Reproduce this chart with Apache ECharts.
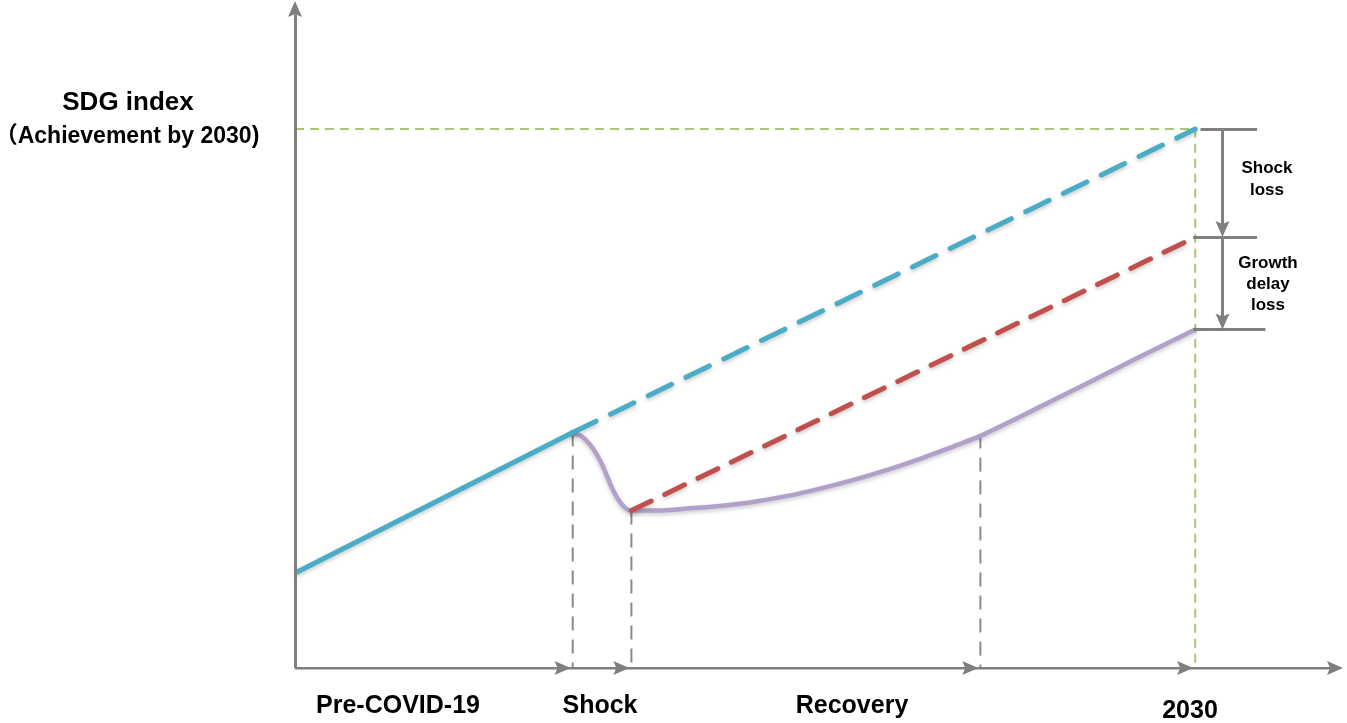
<!DOCTYPE html>
<html>
<head>
<meta charset="utf-8">
<script src="https://cdn.jsdelivr.net/npm/echarts@6/dist/echarts.min.js"></script>
<style>
  html, body { margin: 0; padding: 0; background: #fff; }
  #chart { width: 1347px; height: 723px; }
</style>
</head>
<body>
<div id="chart"></div>
<script>
// conceptual scale: x = time (0..100), y = SDG index (0..100)
var preTrend = [[0.2, 14.4], [26.5, 35.3]];
var noShockTrend = [[26.5, 35.3], [85.9, 80.8]];
var delayedTrend = [[32.1, 23.6], [85.9, 64.6]];
var actualPath = [
  [26.5, 35.3], [27.3, 34.8], [28.1, 33.6], [28.8, 32.0], [29.4, 30.2], [30.0, 27.9],
  [30.5, 26.2], [31.1, 24.7], [31.6, 23.9], [32.1, 23.6],
  [34.5, 23.6], [37.4, 23.9], [40.5, 24.3], [43.7, 24.9], [47.0, 25.8], [50.1, 26.9],
  [53.3, 28.2], [56.5, 29.7], [59.7, 31.4], [62.8, 33.2], [65.4, 34.8],
  [70.5, 38.7], [75.6, 42.7], [80.8, 46.8], [85.9, 50.75]
];
var phaseX = [26.5, 32.1, 65.4, 85.9];      // shock start, trough, recovery end, 2030
var phaseTopY = [35.3, 23.6, 35.0, 80.8];
var levelY = [80.8, 64.6, 50.75];           // no-shock, delayed, actual in 2030
var phaseLabels = ['Pre-COVID-19', 'Shock', 'Recovery', '2030'];
var lossLabels = ['Shock\nloss', 'Growth\ndelay\nloss'];

var GRAY = '#7f7f7f';
var FONT = '"Liberation Sans", Arial, "Noto Sans CJK SC", sans-serif';
var shadow = { shadowColor: 'rgba(0,0,0,0.22)', shadowBlur: 4, shadowOffsetY: 2 };

var ARROW_RIGHT = 'path://M0,0L16,7L0,14L3,7Z';
var ARROW_UP = 'path://M7,0L14,16L7,13L0,16Z';
var ARROW_DOWN = 'path://M0,0L7,3L14,0L7,16Z';

function lineSeries(data, color, width, type, extra) {
  var s = {
    type: 'line', data: data, symbol: 'none', silent: true,
    lineStyle: Object.assign({ color: color, width: width, type: type, cap: 'round' }, shadow)
  };
  return Object.assign(s, extra || {});
}

function arrowSeries(data, symbol, size, offset) {
  return {
    type: 'scatter', data: data, symbol: symbol, symbolSize: size,
    symbolOffset: offset, silent: true, clip: false, z: 6,
    itemStyle: { color: GRAY, opacity: 1 }
  };
}

var series = [];

// green guide to the 2030 target
series.push(lineSeries([[0, levelY[0]], [phaseX[3], levelY[0]], [phaseX[3], 0]],
  '#a8c878', 2, [9, 6], { lineStyle: { color: '#a8c878', width: 2, type: [9, 6] }, z: 1 }));

// gray dashed phase markers
for (var i = 0; i < 3; i++) {
  series.push(lineSeries([[phaseX[i], phaseTopY[i]], [phaseX[i], 0]], '#8a8a8a', 2, [14, 9],
    { lineStyle: { color: '#8a8a8a', width: 2, type: [14, 9] }, z: 1 }));
}

series.push(lineSeries(noShockTrend, '#4bacc6', 5, [26, 16], { z: 3 }));
series.push(lineSeries(delayedTrend, '#c0504d', 5, [22, 15], { z: 3 }));
series.push(lineSeries(actualPath, '#b1a0c9', 4.5, 'solid', { smooth: 0.2, z: 2 }));
series.push(lineSeries(preTrend, '#4bacc6', 5, 'solid', { z: 4 }));

// axes
series.push({
  type: 'lines', coordinateSystem: 'cartesian2d', silent: true, z: 5,
  symbol: 'none',
  lineStyle: { color: GRAY, width: 3, opacity: 1, curveness: 0 },
  data: [
    { coords: [[0, 0], [0, 98]] },
    { coords: [[0, 0], [99, 0]] },
    // loss brackets on the right
    { coords: [[86.4, levelY[0]], [91.8, levelY[0]]] },
    { coords: [[85.7, levelY[1]], [91.8, levelY[1]]] },
    { coords: [[85.7, levelY[2]], [92.6, levelY[2]]] },
    { coords: [[88.5, levelY[0]], [88.5, levelY[1] + 1.5]] },
    { coords: [[88.5, levelY[1]], [88.5, levelY[2] + 1.5]] }
  ]
});

// arrow heads: along the time axis at each phase, on top of the y axis, and in the brackets
var xArrowTips = phaseX.map(function (x) { return [x - 0.2, 0]; }).concat([[100, 0]]);
series.push(arrowSeries(xArrowTips, ARROW_RIGHT, [16, 14], [-8, 0]));
series.push(arrowSeries([[0, 100]], ARROW_UP, [14, 16], [0, 8]));
series.push(arrowSeries([[88.5, levelY[1]], [88.5, levelY[2]]], ARROW_DOWN, [14, 16], [0, -8]));

function txt(str, x, y, size, lh) {
  return {
    type: 'text', x: x, y: y, z: 10,
    style: {
      text: str, fill: '#000', font: 'bold ' + size + 'px ' + FONT,
      align: 'center', verticalAlign: 'middle', lineHeight: lh || size * 1.2
    }
  };
}

var chart = echarts.init(document.getElementById('chart'));
chart.setOption({
  animation: false,
  backgroundColor: '#fff',
  grid: { left: 295, right: 4, top: 1, bottom: 55 },
  xAxis: { type: 'value', min: 0, max: 100, show: false },
  yAxis: { type: 'value', min: 0, max: 100, show: false },
  series: series,
  graphic: [
    txt('SDG index', 128, 103, 26),
    txt('（Achievement by 2030)', 127, 137, 23),
    txt(phaseLabels[0], 398, 706, 25),
    txt(phaseLabels[1], 600, 706, 25),
    txt(phaseLabels[2], 852, 706, 25),
    txt(phaseLabels[3], 1190, 711, 25),
    txt(lossLabels[0], 1267, 179, 17, 22),
    txt(lossLabels[1], 1268, 284, 17, 21)
  ]
});
</script>
</body>
</html>
